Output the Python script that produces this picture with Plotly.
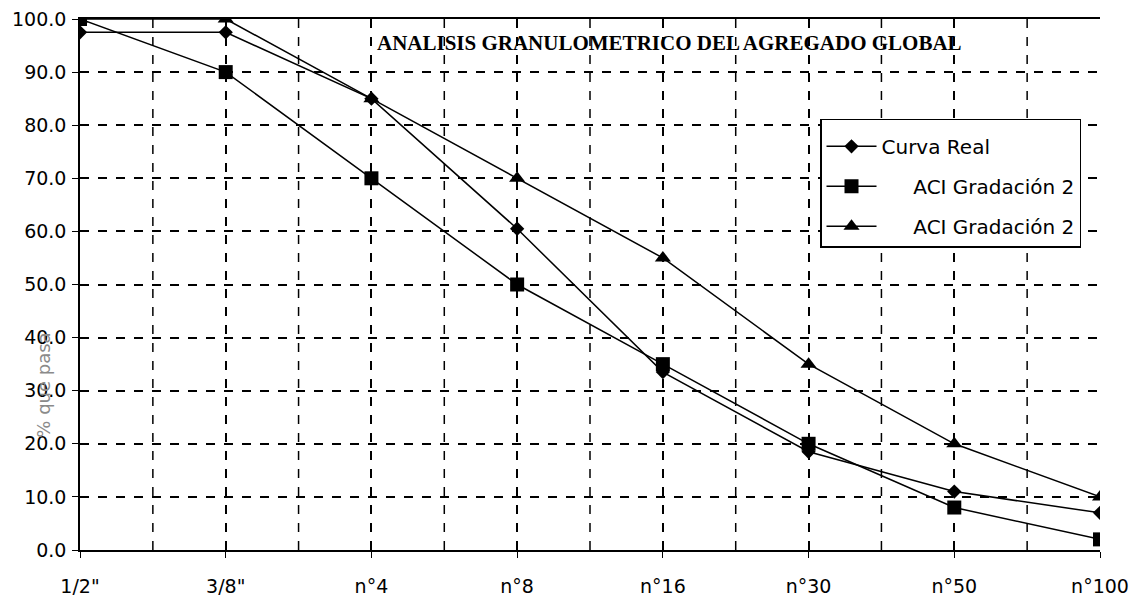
import plotly.graph_objects as go

# Tamices y porcentajes que pasan
tamices = ['1/2"', '3/8"', 'n°4', 'n°8', 'n°16', 'n°30', 'n°50', 'n°100']
curva_real = [97.5, 97.5, 85.0, 60.5, 33.5, 18.5, 11.0, 7.0]
aci_inferior = [100.0, 90.0, 70.0, 50.0, 35.0, 20.0, 8.0, 2.0]
aci_superior = [100.0, 100.0, 85.0, 70.0, 55.0, 35.0, 20.0, 10.0]

y_ticks = [0, 10, 20, 30, 40, 50, 60, 70, 80, 90, 100]

fig = go.Figure()

series = [
    ('Curva Real', curva_real, 'diamond', 11),
    ('\u00a0\u00a0\u00a0\u00a0\u00a0ACI Gradación 2', aci_inferior, 'square', 14),
    ('\u00a0\u00a0\u00a0\u00a0\u00a0ACI Gradación 2', aci_superior, 'triangle-up', 14),
]
for i, (nombre, valores, simbolo, tam) in enumerate(series):
    fig.add_trace(go.Scatter(
        x=tamices, y=valores,
        mode='lines+markers',
        name=nombre,
        legendgroup=f'g{i}',
        line=dict(color='black', width=1.5),
        marker=dict(symbol=simbolo, size=tam, color='black'),
    ))

# lineas de division intermedias entre tamices
for i in range(len(tamices) - 1):
    fig.add_shape(type='line', xref='x', yref='paper',
                  x0=i + 0.5, x1=i + 0.5, y0=0, y1=1,
                  line=dict(color='black', width=1.5, dash='dash'), layer='below')

fig.add_annotation(
    text='<b>ANALISIS GRANULOMETRICO DEL AGREGADO GLOBAL</b>',
    xref='paper', yref='paper', x=0.578, y=0.955, yanchor='middle',
    showarrow=False, font=dict(family='Liberation Serif', size=21, color='black'),
)

fig.add_annotation(
    text='% que pasa', textangle=-90,
    xref='paper', yref='paper', x=-0.036, y=0.31, xanchor='center', yanchor='middle',
    showarrow=False, font=dict(family='DejaVu Sans', size=18, color='#8a8a8a'),
)

# la pagina agrega 8px de margen, el tamaño se ajusta para que entre en la ventana
fig.update_layout(
    width=1134, height=594,
    margin=dict(l=72, r=42, t=11, b=52),
    paper_bgcolor='white', plot_bgcolor='white',
    font=dict(family='DejaVu Sans', size=18, color='black'),
    showlegend=True,
    legend=dict(
        x=0.7255, y=0.812, xanchor='left', yanchor='top',
        bgcolor='white', bordercolor='black', borderwidth=1.5,
        font=dict(family='DejaVu Sans', size=20, color='black'),
        title=dict(text=' ', font=dict(size=5)),
        tracegroupgap=11, itemwidth=50,
    ),
    xaxis=dict(
        type='category', range=[0, len(tamices) - 1], automargin=False,
        showgrid=True, gridcolor='black', gridwidth=1.5, griddash='dash',
        showline=True, linecolor='black', linewidth=1.5, mirror=True,
        ticks='outside', ticklen=6, tickcolor='black',
        tickfont=dict(size=19), ticklabelstandoff=12, ticklabeloverflow='allow',
    ),
    yaxis=dict(
        range=[0, 100], tickvals=y_ticks, tickformat='.1f', automargin=False,
        showgrid=True, gridcolor='black', gridwidth=1.5, griddash='dash',
        showline=True, linecolor='black', linewidth=1.5,
        ticks='outside', ticklen=6, tickcolor='black',
        tickfont=dict(size=19), zeroline=False, ticklabelstandoff=2,
        ticklabeloverflow='allow',
    ),
)

fig.write_html("out.html")
